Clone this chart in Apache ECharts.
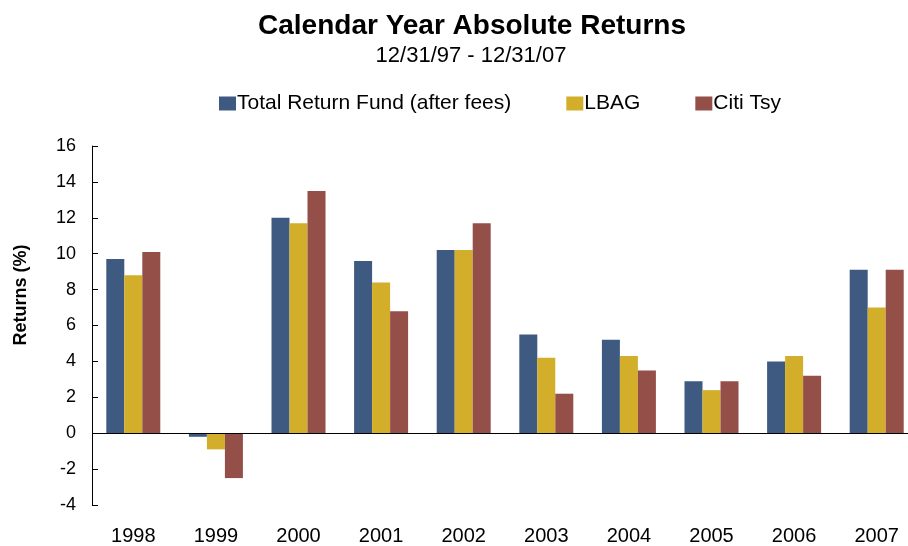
<!DOCTYPE html>
<html>
<head>
<meta charset="utf-8">
<script src="https://cdn.jsdelivr.net/npm/echarts@6/dist/echarts.min.js"></script>
<style>
    html, body {margin: 0; padding: 0; background: #fff; overflow: hidden;}
    /* 图表右侧在原图中被截断，画布稍宽于窗口 */
    #chart {width: 920px; height: 546px;}
</style>
</head>
<body>
<div id="chart"></div>
<script>
// 年份
var years = ['1998', '1999', '2000', '2001', '2002', '2003', '2004', '2005', '2006', '2007'];
// 各系列收益(%)
var totalReturn = [9.7, -0.2, 12.0, 9.6, 10.2, 5.5, 5.2, 2.9, 4.0, 9.1];
var lbag = [8.8, -0.9, 11.7, 8.4, 10.2, 4.2, 4.3, 2.4, 4.3, 7.0];
var citiTsy = [10.1, -2.5, 13.5, 6.8, 11.7, 2.2, 3.5, 2.9, 3.2, 9.1];
var seriesNames = ['Total Return Fund (after fees)', 'LBAG', 'Citi Tsy'];
var colors = ['#3E5A80', '#D3AE2A', '#944F49'];
var yTicks = {min: -4, max: 16, interval: 2};

var font = "'Liberation Sans', Arial, sans-serif";

function bar(name, data, color, withZero) {
    var s = {
        name: name,
        type: 'bar',
        data: data,
        barWidth: 18,
        barGap: '0%',
        itemStyle: {color: color}
    };
    //零线
    if (withZero) {
        s.markLine = {
            silent: true,
            symbol: ['none', 'none'],
            label: {show: false},
            lineStyle: {color: '#000', width: 1.2, type: 'solid'},
            data: [{yAxis: 0}]
        };
    }
    return s;
}

var chart = echarts.init(document.getElementById('chart'));
chart.setOption({
    animation: false,
    backgroundColor: '#fff',
    title: [{
        text: 'Calendar Year Absolute Returns',
        left: 467, top: 7, textAlign: 'center',
        textStyle: {fontFamily: font, fontSize: 28, fontWeight: 'bold', color: '#000'}
    }, {
        text: '12/31/97 - 12/31/07',
        left: 466, top: 40, textAlign: 'center',
        textStyle: {fontFamily: font, fontSize: 22, fontWeight: 'normal', color: '#000'}
    }],
    legend: {
        left: 214, top: 88,
        itemWidth: 17, itemHeight: 14, itemGap: 55,
        icon: 'rect',
        textStyle: {fontFamily: font, fontSize: 21, color: '#000', padding: [0, 0, 0, -4]},
        data: seriesNames
    },
    graphic: [{
        type: 'text',
        x: 21, y: 295,
        rotation: Math.PI / 2,
        style: {
            text: 'Returns (%)',
            font: 'bold 18px ' + font,
            fill: '#000',
            align: 'center',
            verticalAlign: 'middle'
        }
    }],
    grid: {left: 92, top: 146, width: 826, height: 362},
    xAxis: {
        type: 'category',
        data: years,
        axisLine: {show: false},
        axisTick: {show: false},
        axisLabel: {fontFamily: font, fontSize: 20, color: '#000', margin: 21}
    },
    yAxis: {
        type: 'value',
        min: yTicks.min, max: yTicks.max, interval: yTicks.interval,
        axisLine: {show: true, lineStyle: {color: '#000', width: 1}},
        axisTick: {show: true, inside: true, length: 6, lineStyle: {color: '#000'}},
        axisLabel: {fontFamily: font, fontSize: 18, color: '#000', margin: 16},
        splitLine: {show: false}
    },
    series: [
        bar(seriesNames[0], totalReturn, colors[0], true),
        bar(seriesNames[1], lbag, colors[1]),
        bar(seriesNames[2], citiTsy, colors[2])
    ]
});
</script>
</body>
</html>
